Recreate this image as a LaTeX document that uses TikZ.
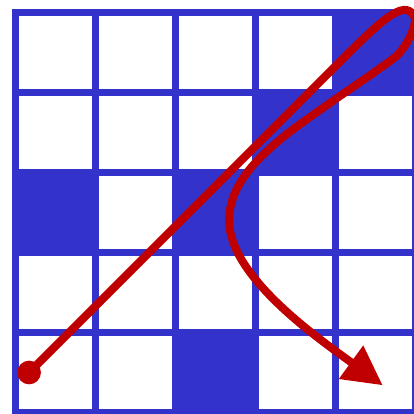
\documentclass[tikz,border=0pt]{standalone}
\usepackage{tikz}
\usetikzlibrary{arrows.meta}
\definecolor{GridBlue}{HTML}{3333CC}
\definecolor{PathRed}{HTML}{C00000}

\begin{document}
\begin{tikzpicture}[
  cellfill/.style={fill=GridBlue},
  gridline/.style={draw=GridBlue, line width=0.08cm, line cap=rect},
  route/.style={draw=PathRed, line width=0.1cm, -{Triangle[length=0.49cm,width=0.49cm]}}
]
  \useasboundingbox (-0.19375,-0.01875) rectangle (4.98125,5.15625);
  % Blocked cells
  \foreach \c/\r in {4/4, 3/3, 0/2, 2/2, 2/0}
    \fill[cellfill] (\c,\r) rectangle ++(1,1);
  % Grid
  \draw[gridline] (0,0) grid (5,5);
  % Route
  \coordinate (start) at (0.17,0.50);
  \coordinate (goal) at (4.59,0.34);
  \draw[route] (start) -- (4.0,4.33)
    .. controls (4.55,4.88) and (4.85,5.18) .. (4.98,4.96)
    .. controls (5.04,4.88) and (4.89,4.55) .. (4.73,4.43)
    .. controls (4.41,4.19) and (3.65,3.69) .. (3.34,3.44)
    .. controls (3.03,3.18) and (2.67,2.85) .. (2.67,2.40)
    .. controls (2.67,1.70) and (3.78,0.93) .. (goal);
  \fill[PathRed] (start) circle (0.148);
\end{tikzpicture}
\end{document}
